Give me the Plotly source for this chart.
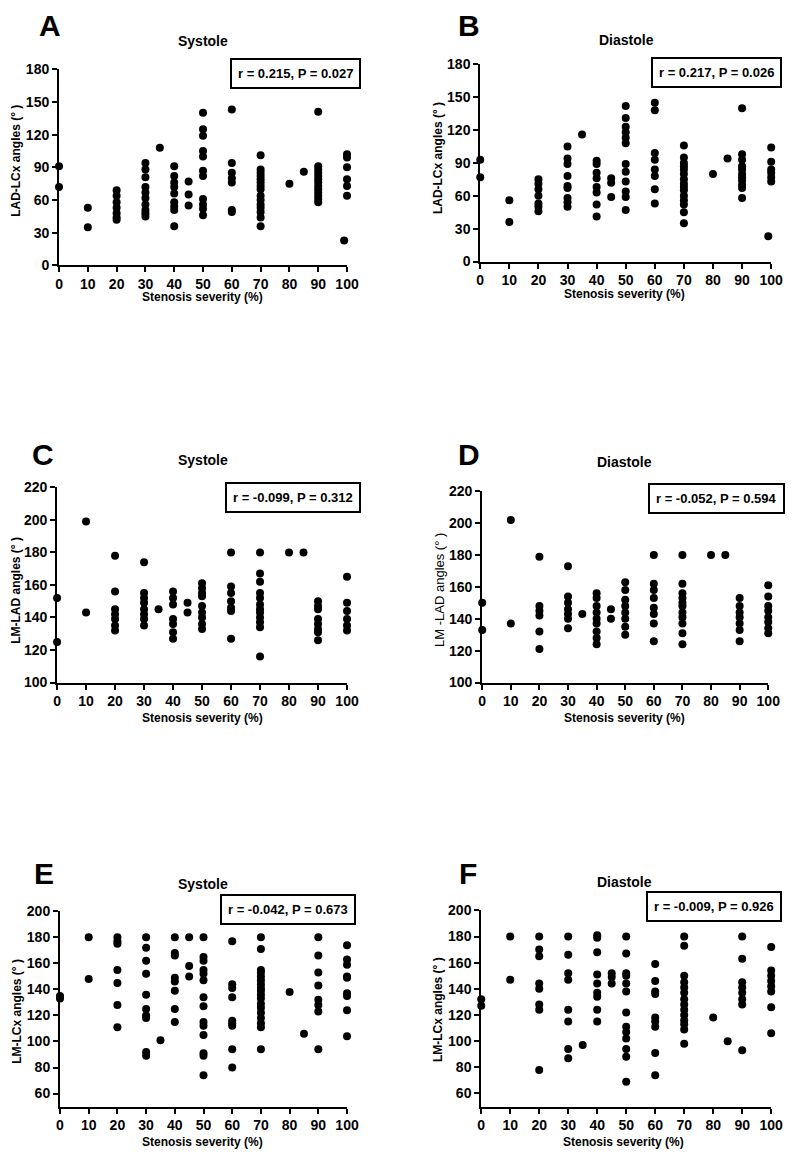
import plotly.graph_objects as go

# ---------------- data (stenosis severity % -> angles in degrees) ----------------
stenosis_ticks = [0, 10, 20, 30, 40, 50, 60, 70, 80, 90, 100]

a_sys_lad_lcx = {
    0: [91, 72], 10: [53, 35], 20: [69, 64, 58, 53, 48, 44, 42],
    30: [94, 88, 81, 72, 67, 62, 56, 51, 48, 45], 35: [108],
    40: [91, 82, 76, 72, 66, 58, 54, 51, 36], 45: [77, 65, 55],
    50: [140, 125, 119, 105, 100, 87, 82, 61, 56, 52, 46],
    60: [143, 94, 85, 80, 76, 51, 49],
    70: [101, 88, 85, 82, 79, 76, 73, 70, 64, 60, 56, 53, 49, 44, 36],
    80: [75], 85: [86],
    90: [141, 91, 88, 85, 82, 79, 76, 73, 70, 67, 64, 61, 58],
    99: [23], 100: [102, 99, 90, 79, 73, 64],
}
b_dia_lad_lcx = {
    0: [93, 77], 10: [56, 36], 20: [75, 71, 66, 60, 53, 50, 46],
    30: [105, 94, 89, 78, 69, 67, 58, 54, 50], 35: [116],
    40: [92, 89, 81, 76, 68, 63, 52, 41], 45: [76, 72, 59],
    50: [142, 131, 123, 118, 113, 108, 89, 82, 73, 64, 59, 47],
    60: [145, 138, 99, 93, 84, 78, 66, 53],
    70: [106, 95, 90, 87, 84, 80, 75, 71, 68, 65, 60, 56, 52, 45, 35],
    80: [80], 85: [94],
    90: [140, 98, 93, 87, 84, 80, 77, 74, 70, 67, 58],
    99: [23], 100: [104, 91, 84, 81, 77, 73],
}
c_sys_lm_lad = {
    0: [152, 125], 10: [199, 143], 20: [178, 156, 145, 142, 139, 135, 132],
    30: [174, 155, 152, 149, 145, 142, 139, 135], 35: [145],
    40: [156, 152, 148, 139, 136, 131, 127], 45: [149, 143],
    50: [161, 158, 155, 153, 147, 143, 140, 136, 133],
    60: [180, 159, 155, 150, 146, 144, 127],
    70: [180, 167, 162, 155, 152, 148, 145, 143, 140, 137, 134, 116],
    80: [180], 85: [180],
    90: [150, 147, 145, 139, 136, 133, 131, 126],
    100: [165, 149, 144, 139, 135, 132],
}
d_dia_lm_lad = {
    0: [150, 133], 10: [202, 137], 20: [179, 148, 145, 142, 132, 121],
    30: [173, 154, 150, 146, 143, 140, 134], 35: [143],
    40: [156, 153, 148, 144, 140, 137, 132, 128, 124], 45: [146, 140],
    50: [163, 158, 152, 148, 144, 140, 135, 130],
    60: [180, 162, 158, 153, 147, 143, 137, 126],
    70: [180, 162, 156, 153, 150, 148, 144, 141, 137, 131, 124],
    80: [180], 85: [180],
    90: [153, 148, 144, 141, 137, 133, 126],
    100: [161, 154, 148, 145, 141, 138, 134, 131],
}
e_sys_lm_lcx = {
    0: [135, 133], 10: [180, 148], 20: [180, 177, 175, 155, 145, 128, 111],
    30: [180, 172, 162, 152, 136, 125, 120, 118, 92, 89], 35: [101],
    40: [180, 168, 166, 149, 146, 139, 125, 115], 45: [180, 158, 150],
    50: [180, 165, 162, 155, 152, 147, 134, 127, 115, 112, 105, 91, 89, 74],
    60: [177, 144, 141, 134, 116, 114, 112, 94, 80],
    70: [180, 171, 155, 153, 150, 147, 144, 141, 139, 136, 133, 129, 126, 122, 118, 114, 111, 94],
    80: [138], 85: [106],
    90: [180, 166, 153, 143, 132, 128, 123, 94],
    100: [174, 163, 159, 150, 149, 137, 135, 124, 104],
}
f_dia_lm_lcx = {
    0: [132, 127], 10: [180, 147], 20: [180, 170, 165, 144, 140, 128, 124, 78],
    30: [180, 166, 152, 147, 124, 115, 94, 87], 35: [97],
    40: [181, 179, 168, 151, 144, 137, 134, 124, 115], 45: [152, 149, 144],
    50: [180, 167, 152, 150, 144, 138, 122, 111, 107, 102, 94, 88, 69],
    60: [159, 146, 138, 136, 118, 115, 111, 91, 74],
    70: [180, 173, 150, 145, 141, 137, 132, 128, 124, 120, 116, 113, 109, 98],
    80: [118], 85: [100],
    90: [180, 163, 145, 141, 137, 132, 128, 93],
    100: [172, 154, 150, 146, 142, 138, 126, 106],
}

panel_letters = ["A", "B", "C", "D", "E", "F"]
phase_titles = ["Systole", "Diastole", "Systole", "Diastole", "Systole", "Diastole"]
y_titles = ["LAD-LCx angles (° )", "LAD-LCx angles (° )", "LM-LAD angles (° )",
            "LM -LAD angles (° )", "LM-LCx angles (° )", "LM-LCx angles (° )"]
stats_text = ["r = 0.215, P = 0.027", "r = 0.217, P = 0.026", "r = -0.099, P = 0.312",
              "r = -0.052, P = 0.594", "r = -0.042, P = 0.673", "r = -0.009, P = 0.926"]
x_title = "Stenosis severity (%)"
panel_data = [a_sys_lad_lcx, b_dia_lad_lcx, c_sys_lm_lad, d_dia_lm_lad, e_sys_lm_lcx, f_dia_lm_lcx]

# ---------------- layout geometry (page pixels) ----------------
PAGE_W, PAGE_H = 800, 1163
BODY_MARGIN = 8  # default browser body margin
W, H = PAGE_W - 2 * BODY_MARGIN, PAGE_H - 2 * BODY_MARGIN
# (x0, x1, ytop, ybottom, yrange, yticks)
geom = [
    (56, 350, 62, 261, [0, 180], list(range(0, 181, 30))),
    (486, 783, 57, 257, [0, 180], list(range(0, 181, 30))),
    (54, 350, 486, 684, [100, 220], list(range(100, 221, 20))),
    (488, 780, 490, 684, [100, 220], list(range(100, 221, 20))),
    (57, 350, 916, 1114, [50, 200], list(range(60, 201, 20))),
    (487, 783, 915, 1114, [50, 200], list(range(60, 201, 20))),
]
letter_pos = [(47, 18), (475, 18), (40, 453), (475, 453), (41, 878), (474, 878)]
title_pos = [(203, 33), (635, 32), (203, 458), (633, 460), (203, 888), (633, 886)]
ytitle_pos = [(12, 155), (443, 152), (12, 590), (445, 590), (13, 1017), (443, 1016)]
xtitle_pos = [(202, 293), (633, 290), (202, 720), (633, 720), (202, 1150), (632, 1150)]
stats_pos = [(297, 66), (727, 65), (295, 496), (727, 497), (290, 914), (725, 911)]

FONT = "Arial, Liberation Sans, sans-serif"


def fx(p):
    return (p - BODY_MARGIN) / W


def fy(p):
    return 1 - (p - BODY_MARGIN) / H


fig = go.Figure()
annotations = []
layout_axes = {}

for i, data in enumerate(panel_data):
    n = i + 1
    xs, ys = [], []
    for sev, vals in data.items():
        for v in vals:
            xs.append(sev)
            ys.append(v)
    xa = "x" if n == 1 else f"x{n}"
    ya = "y" if n == 1 else f"y{n}"
    fig.add_trace(go.Scatter(
        x=xs, y=ys, mode="markers", xaxis=xa, yaxis=ya,
        marker=dict(color="black", size=8, line=dict(width=0)),
        cliponaxis=False, showlegend=False, hoverinfo="skip"))

    x0, x1, yt, yb, yr, yticks = geom[i]
    xkey = "xaxis" if n == 1 else f"xaxis{n}"
    ykey = "yaxis" if n == 1 else f"yaxis{n}"
    layout_axes[xkey] = dict(
        domain=[fx(x0), fx(x1)], range=[0, 100], anchor=ya,
        tickvals=stenosis_ticks, ticks="outside", ticklen=5, tickwidth=2,
        tickcolor="black", showline=True, linecolor="black", linewidth=2,
        showgrid=False, zeroline=False,
        tickfont=dict(family=FONT, size=14, color="black", weight="bold"))
    layout_axes[ykey] = dict(
        domain=[fy(yb), fy(yt)], range=yr, anchor=xa,
        tickvals=yticks, ticks="outside", ticklen=5, tickwidth=2,
        tickcolor="black", showline=True, linecolor="black", linewidth=2,
        showgrid=False, zeroline=False,
        tickfont=dict(family=FONT, size=14, color="black", weight="bold"))

    lx, ly = letter_pos[i]
    annotations.append(dict(
        text=panel_letters[i], x=fx(lx), y=fy(ly), xref="paper", yref="paper",
        showarrow=False, xanchor="center", yanchor="middle",
        font=dict(family=FONT, size=30, color="black", weight="bold")))
    tx, ty = title_pos[i]
    annotations.append(dict(
        text=phase_titles[i], x=fx(tx), y=fy(ty), xref="paper", yref="paper",
        showarrow=False, xanchor="center", yanchor="middle",
        font=dict(family=FONT, size=14, color="black", weight="bold")))
    yx, yy = ytitle_pos[i]
    annotations.append(dict(
        text=y_titles[i], x=fx(yx), y=fy(yy), xref="paper", yref="paper",
        showarrow=False, xanchor="center", yanchor="middle", textangle=-90,
        font=dict(family=FONT, size=12 if i != 3 else 13, color="black",
                  weight="bold" if i != 3 else "normal")))
    xtx, xty = xtitle_pos[i]
    annotations.append(dict(
        text=x_title, x=fx(xtx), y=fy(xty), xref="paper", yref="paper",
        showarrow=False, xanchor="center", yanchor="middle",
        font=dict(family=FONT, size=12, color="black", weight="bold")))
    sx, sy = stats_pos[i]
    annotations.append(dict(
        text=stats_text[i], x=fx(sx), y=fy(sy), xref="paper", yref="paper",
        showarrow=False, xanchor="center", yanchor="middle",
        bordercolor="black", borderwidth=2, borderpad=6, bgcolor="white",
        font=dict(family=FONT, size=13, color="black", weight="bold")))

fig.update_layout(
    width=W, height=H, margin=dict(l=0, r=0, t=0, b=0),
    paper_bgcolor="white", plot_bgcolor="white",
    annotations=annotations, **layout_axes)

fig.write_html("out.html", config={"displayModeBar": False})
